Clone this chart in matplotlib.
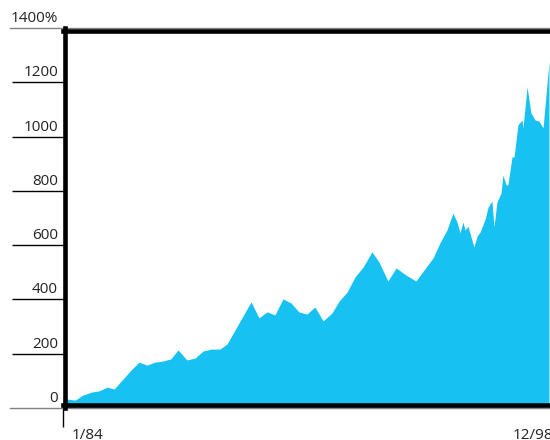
import matplotlib
matplotlib.use("Agg")
import matplotlib.pyplot as plt

# Data: time (decimal year) and cumulative return (%)
years = [1984.00, 1984.14, 1984.41, 1984.68, 1984.98, 1985.22, 1985.49, 1985.73,
         1986.00, 1986.27, 1986.57, 1986.84, 1987.11, 1987.38, 1987.65, 1987.89,
         1988.19, 1988.47, 1988.74, 1989.01, 1989.31, 1989.55, 1990.36, 1990.63,
         1990.90, 1991.17, 1991.44, 1991.71, 1991.98, 1992.25, 1992.52, 1992.80,
         1993.10, 1993.34, 1993.61, 1993.88, 1994.15, 1994.45, 1994.69, 1994.99,
         1995.27, 1995.60, 1995.94, 1996.52, 1996.75, 1996.99, 1997.19, 1997.33,
         1997.43, 1997.53, 1997.60, 1997.70, 1997.90, 1998.01, 1998.11, 1998.28,
         1998.38, 1998.51, 1998.58, 1998.68, 1998.82, 1998.88, 1998.99, 1999.05,
         1999.19, 1999.26, 1999.39, 1999.53, 1999.56, 1999.70, 1999.83, 1999.97,
         2000.10, 2000.24, 2000.44]
returns = [30, 33, 29, 48, 59, 63, 77, 70,
           103, 136, 169, 158, 169, 173, 181, 214,
           177, 184, 210, 217, 217, 236, 391, 332,
           354, 343, 402, 387, 354, 346, 372, 321,
           350, 394, 427, 483, 519, 575, 538, 468,
           516, 490, 468, 553, 608, 656, 718, 685,
           645, 685, 656, 670, 593, 634, 648, 696,
           740, 763, 667, 759, 792, 858, 822, 822,
           925, 925, 1043, 1061, 1032, 1183, 1087, 1061,
           1057, 1032, 1275]

ytick_values = [0, 200, 400, 600, 800, 1000, 1200, 1400]
ytick_labels = ["0", "200", "400", "600", "800", "1000", "1200", "1400%"]
xtick_values = [1984.0, 1998.92]
xtick_labels = ["1/84", "12/98"]

fill_color = "#17c1f1"
font = ["Open Sans", "DejaVu Sans"]

fig = plt.figure(figsize=(5.5, 4.4), dpi=100)
ax = fig.add_axes([63 / 550, 32 / 440, 487 / 550, 380 / 440])

ax.fill_between(years, returns, 0, color=fill_color, linewidth=0, zorder=1)

ax.set_xlim(1984.0, 2000.475)
ax.set_ylim(0, 1400)

px = 72 / 100  # points per pixel

# Frame: thick black left, top, bottom
for side in ["left", "top", "bottom"]:
    ax.spines[side].set_color("black")
    ax.spines[side].set_linewidth(4.6 * px)
    ax.spines[side].set_zorder(3)
ax.spines["right"].set_visible(False)
ax.spines["left"].set_position(("outward", -1.5 * px))
ax.spines["top"].set_position(("outward", -3 * px))
ax.spines["bottom"].set_position(("outward", -3 * px))

# Y ticks (black lines extending left)
ax.set_yticks([v for v in ytick_values if v not in (0, 1400)])
ax.tick_params(axis="y", direction="out", length=53 * px, width=1.0,
               color="black", labelleft=False)
# X tick at start
ax.set_xticks([xtick_values[0]])
ax.tick_params(axis="x", direction="out", length=22 * px, width=1.0,
               color="black", labelbottom=False)

# Grey full-width lines at 0 and 1400
for v in (0, 1400):
    ax.axhline(v, xmin=-53 / 487, xmax=1.0, color="#808080", lw=1.0,
               clip_on=False, zorder=2)

# Y labels above tick lines
for v, lab in zip(ytick_values, ytick_labels):
    ax.annotate(lab, xy=(0, v), xycoords=("axes fraction", "data"),
                xytext=(-5 * px, 6 * px), textcoords="offset points",
                ha="right", va="baseline", fontsize=11, color="#222222",
                family=font, annotation_clip=False)

# X labels
for v, lab in zip(xtick_values, xtick_labels):
    ax.annotate(lab, xy=(v, 0), xycoords=("data", "axes fraction"),
                xytext=(9 * px, -20 * px), textcoords="offset points",
                ha="left", va="top", fontsize=11, color="#222222",
                family=font, annotation_clip=False)

fig.savefig("out.png", dpi=100)
